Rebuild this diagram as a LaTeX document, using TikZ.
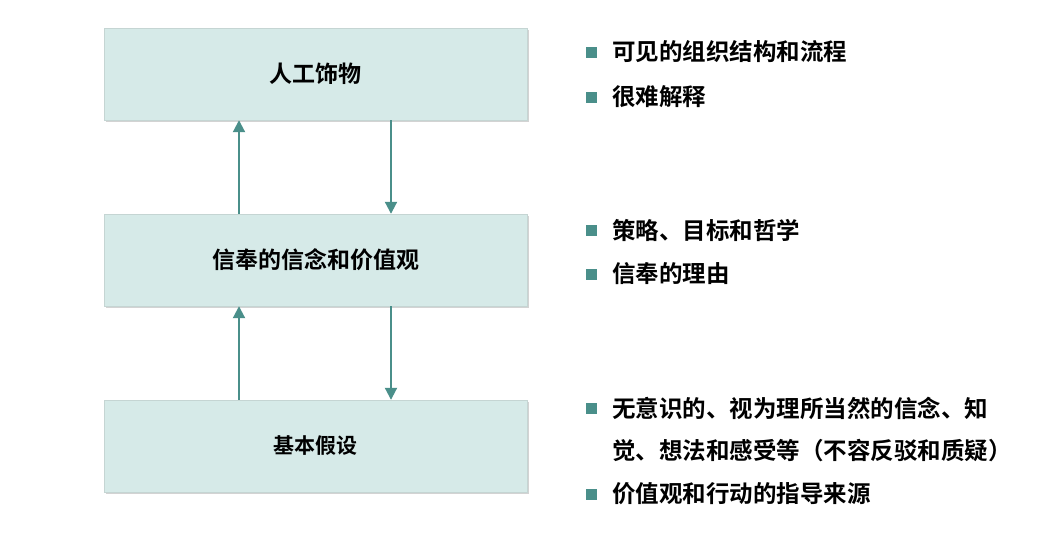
\documentclass[tikz,border=0pt]{standalone}
\usepackage{fontspec}
\newfontfamily\cjk{Noto Sans CJK SC}[BoldFont={Noto Sans CJK SC Bold}]
\usetikzlibrary{shadows,arrows.meta}
\definecolor{teal1}{HTML}{4A8F8A}
\definecolor{boxfill}{HTML}{D6EAE8}
\begin{document}
\begin{tikzpicture}[x=1pt,y=-1pt,
  box/.style={draw=boxfill!80!gray,fill=boxfill,minimum width=423pt,minimum height=92pt,
    drop shadow={shadow xshift=2pt,shadow yshift=-2pt,opacity=0.35},font=\cjk\bfseries\fontsize{23}{27}\selectfont},
  arr/.style={draw=teal1,line width=2pt,-{Triangle[length=12pt,width=12pt]}},
  blt/.style={anchor=west,font=\cjk\bfseries\fontsize{23.5}{28}\selectfont,inner sep=0pt},
  sq/.style={fill=teal1,minimum size=11pt,inner sep=0pt}]
\useasboundingbox (0,0) rectangle (1047,539);
\node[box] (a) at (315.5,74) {人工饰物};
\node[box] (b) at (315.5,260) {信奉的信念和价值观};
\node[box,font=\cjk\bfseries\fontsize{21}{25}\selectfont] (c) at (315.5,446) {基本假设};
\draw[arr] (a.south -| 391,0) -- (b.north -| 391,0);
\draw[arr] (b.north -| 239,0) -- (a.south -| 239,0);
\draw[arr] (b.south -| 391,0) -- (c.north -| 391,0);
\draw[arr] (c.north -| 239,0) -- (b.south -| 239,0);
\foreach \y/\t [count=\i] in {52/可见的组织结构和流程,97/很难解释,230/策略、目标和哲学,274/信奉的理由,408/无意识的、视为理所当然的信念、知,494/价值观和行动的指导来源}{
  \node[sq] (s\i) at (591,\y) {};
  \node[blt] (t\i) at (612,\y) {\t};
}
\node[blt] (t7) at (612,451) {觉、想法和感受等（不容反驳和质疑）};
\end{tikzpicture}
\end{document}
